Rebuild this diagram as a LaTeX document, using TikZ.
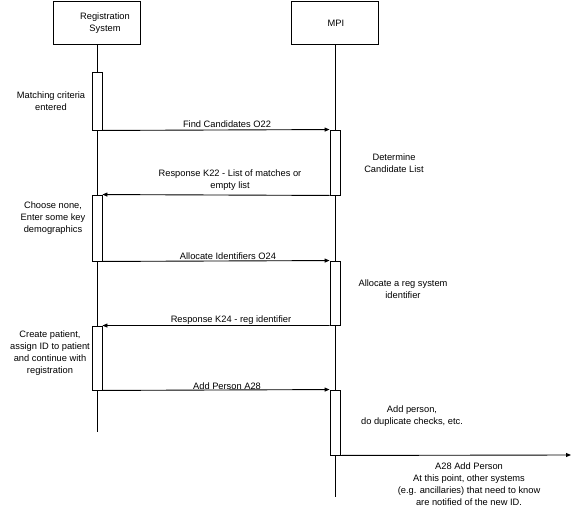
\documentclass[tikz,border=0pt]{standalone}
\usepackage{fontspec}
\setmainfont{Liberation Sans}
\usetikzlibrary{arrows.meta}
\begin{document}
\begin{tikzpicture}[x=1pt,y=-1pt,
  every node/.style={font=\fontsize{9.3}{12}\selectfont},
  actor/.style={draw, line width=0.9pt, minimum width=87pt, minimum height=43pt, inner sep=0pt},
  bar/.style={draw, line width=0.9pt, fill=white, minimum width=10pt, inner sep=0pt},
  life/.style={line width=0.9pt},
  msg/.style={line width=0.9pt, -{Triangle[length=5pt,width=4pt]}},
  lbl/.style={align=center, inner sep=0pt}]
\useasboundingbox (0,0) rectangle (573,508);
% actors
\node[actor] (rs) at (97,22.5) {};
\node[actor] (mpi) at (335,22.5) {};
\node[lbl] (rst) at (105,23) {Registration\\System};
\node[lbl] (mpit) at (336,23) {MPI};
% lifelines
\coordinate (rsend) at (97,432);
\coordinate (mpiend) at (335,497);
\draw[life] (rs.south) -- (rsend);
\draw[life] (mpi.south) -- (mpiend);
% activation bars
\node[bar, minimum height=58pt] (b1) at (97,101) {};
\node[bar, minimum height=66pt] (b2) at (97,228) {};
\node[bar, minimum height=64pt] (b3) at (97,358) {};
\node[bar, minimum height=65pt] (m1) at (335,162.5) {};
\node[bar, minimum height=64pt] (m2) at (335,293) {};
\node[bar, minimum height=65pt] (m3) at (335,422.5) {};
% messages
\draw[msg] (b1.south east) -- (m1.north west);
\draw[msg] (m1.south west) -- (b2.north east);
\draw[msg] (b2.south east) -- (m2.north west);
\draw[msg] (m2.south west) -- (b3.north east);
\draw[msg] (b3.south east) -- (m3.north west);
\coordinate (out) at (571,455);
\draw[msg] (m3.south east) -- (out);
% message labels
\node[lbl] (l1) at (227,124) {Find Candidates O22};
\node[lbl] (l2) at (230,180) {Response K22 - List of matches or\\empty list};
\node[lbl] (l3) at (228,256) {Allocate Identifiers O24};
\node[lbl] (l4) at (231,320) {Response K24 - reg identifier};
\node[lbl] (l5) at (227,386) {Add Person A28};
% notes
\node[lbl] (n1) at (51,101) {Matching criteria\\entered};
\node[lbl] (n2) at (53,218) {Choose none,\\Enter some key\\demographics};
\node[lbl] (n3) at (50,353) {Create patient,\\assign ID to patient\\and continue with\\registration};
\node[lbl] (n4) at (394,163.5) {Determine\\Candidate List};
\node[lbl] (n5) at (403,289) {Allocate a reg system\\identifier};
\node[lbl] (n6) at (412,416) {Add person,\\do duplicate checks, etc.};
\node[lbl] (n7) at (469,484) {A28 Add Person\\At this point, other systems\\(e.g. ancillaries) that need to know\\are notified of the new ID.};
\end{tikzpicture}
\end{document}
